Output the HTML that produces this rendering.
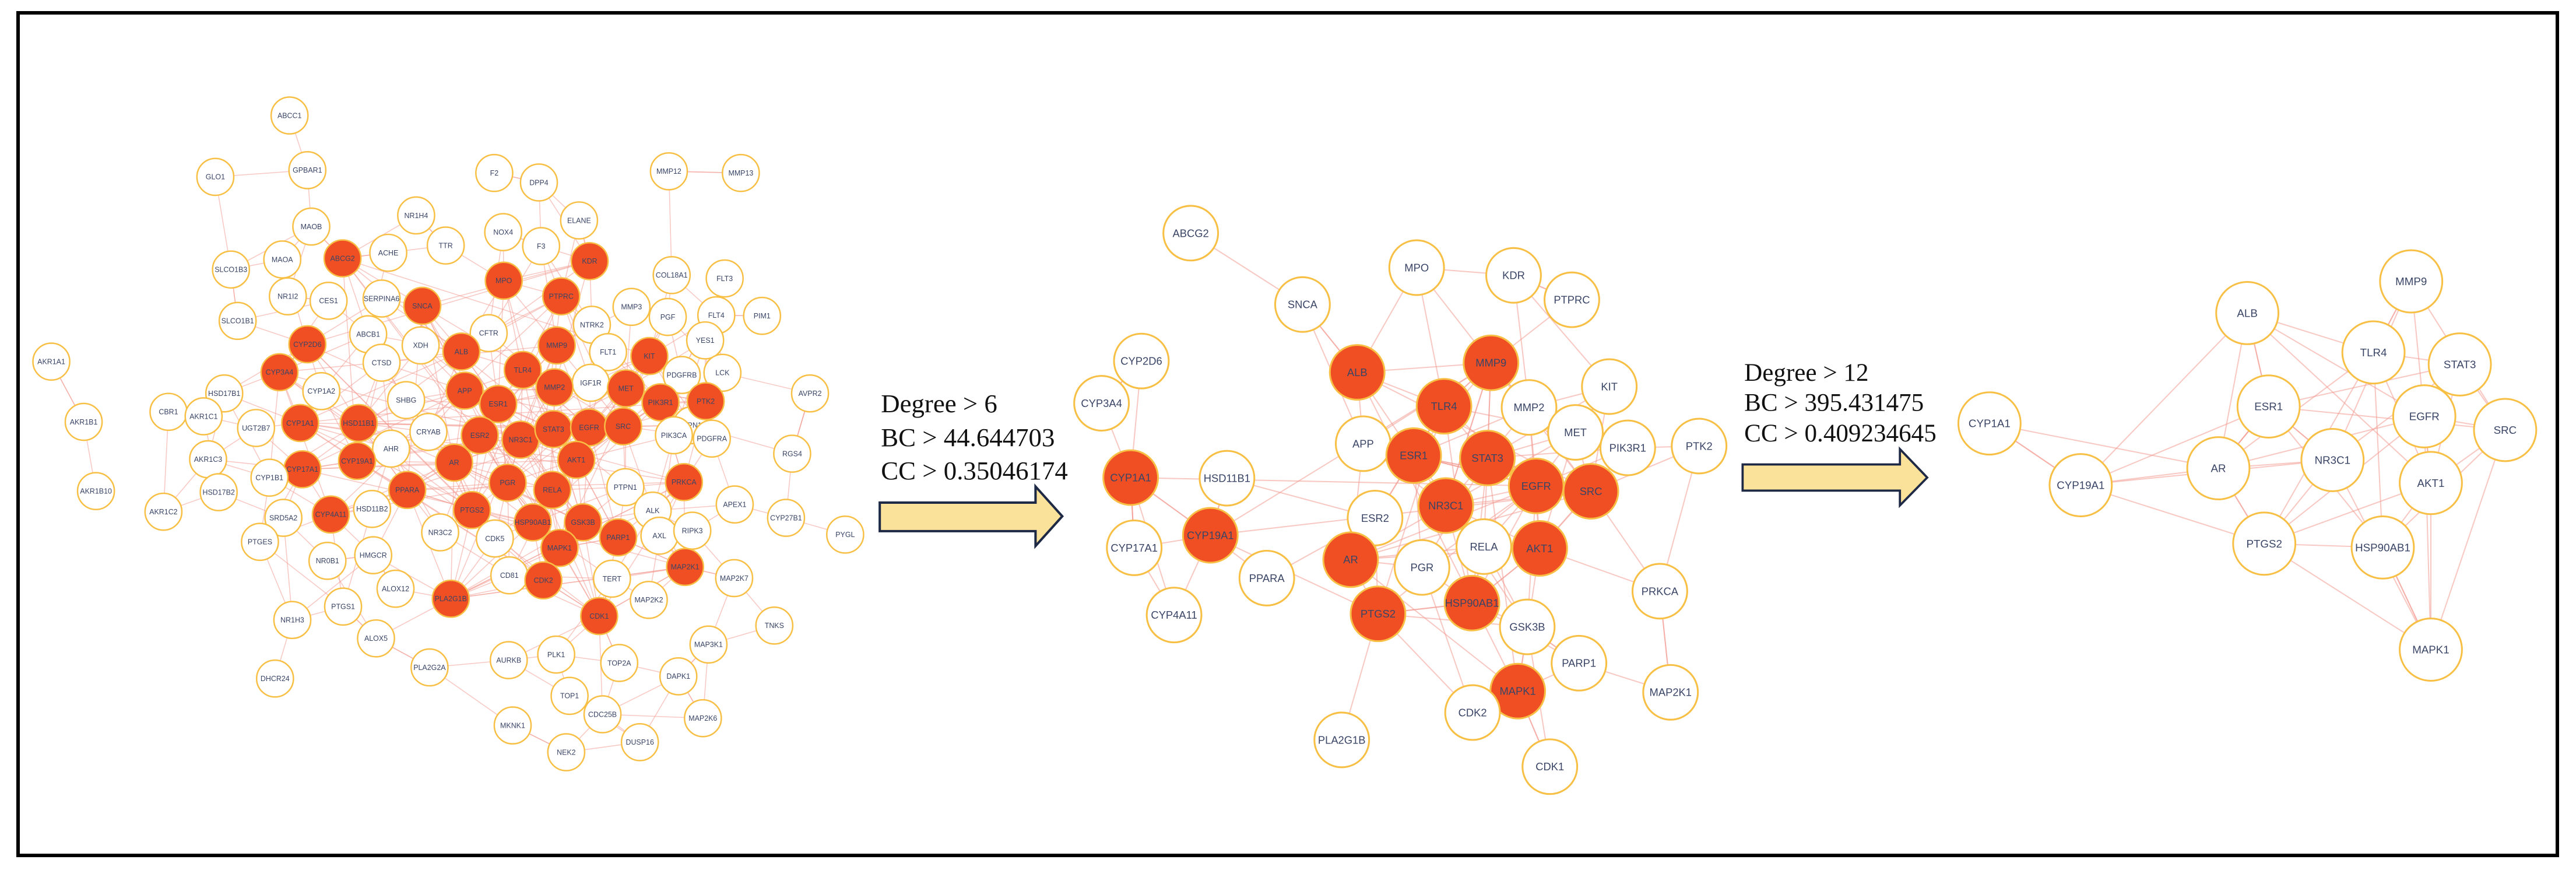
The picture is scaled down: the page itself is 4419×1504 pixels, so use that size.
<!DOCTYPE html>
<html><head><meta charset="utf-8"><style>
html,body{margin:0;padding:0;background:#fff;}
svg{display:block;}
.n1 circle{stroke:#f8bf45;stroke-width:2.6;}
.n2 circle{stroke:#f8bf45;stroke-width:3;}
.n3 circle{stroke:#f8bf45;stroke-width:3.2;}
circle{fill:#fff;}
circle.o{fill:#f04f24;}
text.l{font-family:"Liberation Sans",sans-serif;fill:#3a4566;text-anchor:middle;}
.n1 text.l{font-size:13px;}
.n2 text.l{font-size:18px;}
.n3 text.l{font-size:20px;}
.cap{font-family:"Liberation Serif",serif;fill:#111;}
</style></head><body>
<svg id="s" width="4419" height="1504" viewBox="0 0 4419 1504" xmlns="http://www.w3.org/2000/svg">
<rect x="0" y="0" width="4419" height="1504" fill="#fff"/>
<rect x="31" y="22" width="4356" height="1445" fill="none" stroke="#000" stroke-width="6"/>

<g id="p1" class="n1" transform="scale(0.957)">
<g class="e"></g>
<g class="nodes" data-r="33">
<circle cx="519" cy="207" r="33"/><text class="l" x="519" y="207" dy="0.35em">ABCC1</text>
<circle cx="551" cy="305" r="33"/><text class="l" x="551" y="305" dy="0.35em">GPBAR1</text>
<circle cx="386" cy="317" r="33"/><text class="l" x="386" y="317" dy="0.35em">GLO1</text>
<circle cx="886" cy="310" r="33"/><text class="l" x="886" y="310" dy="0.35em">F2</text>
<circle cx="966" cy="327" r="33"/><text class="l" x="966" y="327" dy="0.35em">DPP4</text>
<circle cx="1199" cy="307" r="33"/><text class="l" x="1199" y="307" dy="0.35em">MMP12</text>
<circle cx="1328" cy="310" r="33"/><text class="l" x="1328" y="310" dy="0.35em">MMP13</text>
<circle cx="746" cy="386" r="33"/><text class="l" x="746" y="386" dy="0.35em">NR1H4</text>
<circle cx="558" cy="406" r="33"/><text class="l" x="558" y="406" dy="0.35em">MAOB</text>
<circle cx="1038" cy="395" r="33"/><text class="l" x="1038" y="395" dy="0.35em">ELANE</text>
<circle cx="902" cy="416" r="33"/><text class="l" x="902" y="416" dy="0.35em">NOX4</text>
<circle cx="799" cy="440" r="33"/><text class="l" x="799" y="440" dy="0.35em">TTR</text>
<circle cx="970" cy="441" r="33"/><text class="l" x="970" y="441" dy="0.35em">F3</text>
<circle cx="506" cy="465" r="33"/><text class="l" x="506" y="465" dy="0.35em">MAOA</text>
<circle class="o" cx="614" cy="463" r="33"/><text class="l" x="614" y="463" dy="0.35em">ABCG2</text>
<circle cx="696" cy="453" r="33"/><text class="l" x="696" y="453" dy="0.35em">ACHE</text>
<circle cx="414" cy="483" r="33"/><text class="l" x="414" y="483" dy="0.35em">SLCO1B3</text>
<circle class="o" cx="1057" cy="468" r="33"/><text class="l" x="1057" y="468" dy="0.35em">KDR</text>
<circle cx="1204" cy="493" r="33"/><text class="l" x="1204" y="493" dy="0.35em">COL18A1</text>
<circle cx="1299" cy="499" r="33"/><text class="l" x="1299" y="499" dy="0.35em">FLT3</text>
<circle cx="516" cy="531" r="33"/><text class="l" x="516" y="531" dy="0.35em">NR1I2</text>
<circle cx="589" cy="539" r="33"/><text class="l" x="589" y="539" dy="0.35em">CES1</text>
<circle cx="684" cy="535" r="33"/><text class="l" x="684" y="535" dy="0.35em">SERPINA6</text>
<circle class="o" cx="757" cy="548" r="33"/><text class="l" x="757" y="548" dy="0.35em">SNCA</text>
<circle class="o" cx="903" cy="503" r="33"/><text class="l" x="903" y="503" dy="0.35em">MPO</text>
<circle class="o" cx="1006" cy="531" r="33"/><text class="l" x="1006" y="531" dy="0.35em">PTPRC</text>
<circle cx="1132" cy="550" r="33"/><text class="l" x="1132" y="550" dy="0.35em">MMP3</text>
<circle cx="1197" cy="568" r="33"/><text class="l" x="1197" y="568" dy="0.35em">PGF</text>
<circle cx="1284" cy="565" r="33"/><text class="l" x="1284" y="565" dy="0.35em">FLT4</text>
<circle cx="1366" cy="566" r="33"/><text class="l" x="1366" y="566" dy="0.35em">PIM1</text>
<circle cx="1061" cy="582" r="33"/><text class="l" x="1061" y="582" dy="0.35em">NTRK2</text>
<circle cx="426" cy="575" r="33"/><text class="l" x="426" y="575" dy="0.35em">SLCO1B1</text>
<circle class="o" cx="551" cy="617" r="33"/><text class="l" x="551" y="617" dy="0.35em">CYP2D6</text>
<circle cx="660" cy="599" r="33"/><text class="l" x="660" y="599" dy="0.35em">ABCB1</text>
<circle cx="754" cy="619" r="33"/><text class="l" x="754" y="619" dy="0.35em">XDH</text>
<circle cx="876" cy="597" r="33"/><text class="l" x="876" y="597" dy="0.35em">CFTR</text>
<circle class="o" cx="827" cy="630" r="33"/><text class="l" x="827" y="630" dy="0.35em">ALB</text>
<circle class="o" cx="998" cy="619" r="33"/><text class="l" x="998" y="619" dy="0.35em">MMP9</text>
<circle cx="1090" cy="631" r="33"/><text class="l" x="1090" y="631" dy="0.35em">FLT1</text>
<circle class="o" cx="1164" cy="638" r="33"/><text class="l" x="1164" y="638" dy="0.35em">KIT</text>
<circle cx="1264" cy="610" r="33"/><text class="l" x="1264" y="610" dy="0.35em">YES1</text>
<circle cx="92" cy="648" r="33"/><text class="l" x="92" y="648" dy="0.35em">AKR1A1</text>
<circle cx="684" cy="650" r="33"/><text class="l" x="684" y="650" dy="0.35em">CTSD</text>
<circle class="o" cx="501" cy="667" r="33"/><text class="l" x="501" y="667" dy="0.35em">CYP3A4</text>
<circle class="o" cx="937" cy="663" r="33"/><text class="l" x="937" y="663" dy="0.35em">TLR4</text>
<circle cx="1295" cy="668" r="33"/><text class="l" x="1295" y="668" dy="0.35em">LCK</text>
<circle cx="1222" cy="672" r="33"/><text class="l" x="1222" y="672" dy="0.35em">PDGFRB</text>
<circle cx="1059" cy="686" r="33"/><text class="l" x="1059" y="686" dy="0.35em">IGF1R</text>
<circle class="o" cx="994" cy="694" r="33"/><text class="l" x="994" y="694" dy="0.35em">MMP2</text>
<circle class="o" cx="1122" cy="696" r="33"/><text class="l" x="1122" y="696" dy="0.35em">MET</text>
<circle cx="576" cy="701" r="33"/><text class="l" x="576" y="701" dy="0.35em">CYP1A2</text>
<circle cx="728" cy="717" r="33"/><text class="l" x="728" y="717" dy="0.35em">SHBG</text>
<circle class="o" cx="833" cy="700" r="33"/><text class="l" x="833" y="700" dy="0.35em">APP</text>
<circle cx="402" cy="705" r="33"/><text class="l" x="402" y="705" dy="0.35em">HSD17B1</text>
<circle class="o" cx="893" cy="724" r="33"/><text class="l" x="893" y="724" dy="0.35em">ESR1</text>
<circle cx="1240" cy="762" r="33"/><text class="l" x="1240" y="762" dy="0.35em">PTPN11</text>
<circle class="o" cx="1184" cy="721" r="33"/><text class="l" x="1184" y="721" dy="0.35em">PIK3R1</text>
<circle class="o" cx="1265" cy="719" r="33"/><text class="l" x="1265" y="719" dy="0.35em">PTK2</text>
<circle cx="1452" cy="705" r="33"/><text class="l" x="1452" y="705" dy="0.35em">AVPR2</text>
<circle cx="302" cy="738" r="33"/><text class="l" x="302" y="738" dy="0.35em">CBR1</text>
<circle cx="365" cy="746" r="33"/><text class="l" x="365" y="746" dy="0.35em">AKR1C1</text>
<circle cx="150" cy="756" r="33"/><text class="l" x="150" y="756" dy="0.35em">AKR1B1</text>
<circle cx="459" cy="767" r="33"/><text class="l" x="459" y="767" dy="0.35em">UGT2B7</text>
<circle class="o" cx="538" cy="758" r="33"/><text class="l" x="538" y="758" dy="0.35em">CYP1A1</text>
<circle class="o" cx="643" cy="758" r="33"/><text class="l" x="643" y="758" dy="0.35em">HSD11B1</text>
<circle cx="768" cy="774" r="33"/><text class="l" x="768" y="774" dy="0.35em">CRYAB</text>
<circle class="o" cx="860" cy="780" r="33"/><text class="l" x="860" y="780" dy="0.35em">ESR2</text>
<circle class="o" cx="933" cy="788" r="33"/><text class="l" x="933" y="788" dy="0.35em">NR3C1</text>
<circle class="o" cx="992" cy="769" r="33"/><text class="l" x="992" y="769" dy="0.35em">STAT3</text>
<circle class="o" cx="1056" cy="766" r="33"/><text class="l" x="1056" y="766" dy="0.35em">EGFR</text>
<circle class="o" cx="1117" cy="764" r="33"/><text class="l" x="1117" y="764" dy="0.35em">SRC</text>
<circle cx="1208" cy="780" r="33"/><text class="l" x="1208" y="780" dy="0.35em">PIK3CA</text>
<circle cx="1276" cy="786" r="33"/><text class="l" x="1276" y="786" dy="0.35em">PDGFRA</text>
<circle cx="1420" cy="813" r="33"/><text class="l" x="1420" y="813" dy="0.35em">RGS4</text>
<circle cx="701" cy="804" r="33"/><text class="l" x="701" y="804" dy="0.35em">AHR</text>
<circle cx="373" cy="823" r="33"/><text class="l" x="373" y="823" dy="0.35em">AKR1C3</text>
<circle class="o" cx="542" cy="841" r="33"/><text class="l" x="542" y="841" dy="0.35em">CYP17A1</text>
<circle class="o" cx="640" cy="826" r="33"/><text class="l" x="640" y="826" dy="0.35em">CYP19A1</text>
<circle class="o" cx="814" cy="829" r="33"/><text class="l" x="814" y="829" dy="0.35em">AR</text>
<circle class="o" cx="1033" cy="824" r="33"/><text class="l" x="1033" y="824" dy="0.35em">AKT1</text>
<circle cx="483" cy="856" r="33"/><text class="l" x="483" y="856" dy="0.35em">CYP1B1</text>
<circle cx="392" cy="882" r="33"/><text class="l" x="392" y="882" dy="0.35em">HSD17B2</text>
<circle cx="172" cy="880" r="33"/><text class="l" x="172" y="880" dy="0.35em">AKR1B10</text>
<circle class="o" cx="730" cy="878" r="33"/><text class="l" x="730" y="878" dy="0.35em">PPARA</text>
<circle class="o" cx="910" cy="865" r="33"/><text class="l" x="910" y="865" dy="0.35em">PGR</text>
<circle class="o" cx="990" cy="878" r="33"/><text class="l" x="990" y="878" dy="0.35em">RELA</text>
<circle cx="1121" cy="873" r="33"/><text class="l" x="1121" y="873" dy="0.35em">PTPN1</text>
<circle class="o" cx="1226" cy="864" r="33"/><text class="l" x="1226" y="864" dy="0.35em">PRKCA</text>
<circle cx="1317" cy="904" r="33"/><text class="l" x="1317" y="904" dy="0.35em">APEX1</text>
<circle cx="293" cy="917" r="33"/><text class="l" x="293" y="917" dy="0.35em">AKR1C2</text>
<circle cx="508" cy="928" r="33"/><text class="l" x="508" y="928" dy="0.35em">SRD5A2</text>
<circle class="o" cx="593" cy="922" r="33"/><text class="l" x="593" y="922" dy="0.35em">CYP4A11</text>
<circle cx="667" cy="912" r="33"/><text class="l" x="667" y="912" dy="0.35em">HSD11B2</text>
<circle class="o" cx="846" cy="914" r="33"/><text class="l" x="846" y="914" dy="0.35em">PTGS2</text>
<circle cx="1170" cy="915" r="33"/><text class="l" x="1170" y="915" dy="0.35em">ALK</text>
<circle cx="1409" cy="928" r="33"/><text class="l" x="1409" y="928" dy="0.35em">CYP27B1</text>
<circle cx="1515" cy="958" r="33"/><text class="l" x="1515" y="958" dy="0.35em">PYGL</text>
<circle class="o" cx="955" cy="936" r="33"/><text class="l" x="955" y="936" dy="0.35em">HSP90AB1</text>
<circle class="o" cx="1045" cy="936" r="33"/><text class="l" x="1045" y="936" dy="0.35em">GSK3B</text>
<circle cx="1182" cy="960" r="33"/><text class="l" x="1182" y="960" dy="0.35em">AXL</text>
<circle class="o" cx="1108" cy="963" r="33"/><text class="l" x="1108" y="963" dy="0.35em">PARP1</text>
<circle cx="1241" cy="951" r="33"/><text class="l" x="1241" y="951" dy="0.35em">RIPK3</text>
<circle cx="466" cy="971" r="33"/><text class="l" x="466" y="971" dy="0.35em">PTGES</text>
<circle cx="789" cy="954" r="33"/><text class="l" x="789" y="954" dy="0.35em">NR3C2</text>
<circle cx="887" cy="965" r="33"/><text class="l" x="887" y="965" dy="0.35em">CDK5</text>
<circle class="o" cx="1003" cy="982" r="33"/><text class="l" x="1003" y="982" dy="0.35em">MAPK1</text>
<circle cx="587" cy="1005" r="33"/><text class="l" x="587" y="1005" dy="0.35em">NR0B1</text>
<circle cx="669" cy="995" r="33"/><text class="l" x="669" y="995" dy="0.35em">HMGCR</text>
<circle class="o" cx="1228" cy="1016" r="33"/><text class="l" x="1228" y="1016" dy="0.35em">MAP2K1</text>
<circle cx="1316" cy="1036" r="33"/><text class="l" x="1316" y="1036" dy="0.35em">MAP2K7</text>
<circle cx="913" cy="1031" r="33"/><text class="l" x="913" y="1031" dy="0.35em">CD81</text>
<circle class="o" cx="974" cy="1040" r="33"/><text class="l" x="974" y="1040" dy="0.35em">CDK2</text>
<circle cx="1097" cy="1037" r="33"/><text class="l" x="1097" y="1037" dy="0.35em">TERT</text>
<circle cx="709" cy="1055" r="33"/><text class="l" x="709" y="1055" dy="0.35em">ALOX12</text>
<circle class="o" cx="808" cy="1073" r="33"/><text class="l" x="808" y="1073" dy="0.35em">PLA2G1B</text>
<circle cx="615" cy="1087" r="33"/><text class="l" x="615" y="1087" dy="0.35em">PTGS1</text>
<circle cx="524" cy="1111" r="33"/><text class="l" x="524" y="1111" dy="0.35em">NR1H3</text>
<circle cx="1163" cy="1075" r="33"/><text class="l" x="1163" y="1075" dy="0.35em">MAP2K2</text>
<circle class="o" cx="1074" cy="1104" r="33"/><text class="l" x="1074" y="1104" dy="0.35em">CDK1</text>
<circle cx="1388" cy="1121" r="33"/><text class="l" x="1388" y="1121" dy="0.35em">TNKS</text>
<circle cx="674" cy="1144" r="33"/><text class="l" x="674" y="1144" dy="0.35em">ALOX5</text>
<circle cx="912" cy="1183" r="33"/><text class="l" x="912" y="1183" dy="0.35em">AURKB</text>
<circle cx="997" cy="1173" r="33"/><text class="l" x="997" y="1173" dy="0.35em">PLK1</text>
<circle cx="1110" cy="1188" r="33"/><text class="l" x="1110" y="1188" dy="0.35em">TOP2A</text>
<circle cx="1270" cy="1155" r="33"/><text class="l" x="1270" y="1155" dy="0.35em">MAP3K1</text>
<circle cx="770" cy="1196" r="33"/><text class="l" x="770" y="1196" dy="0.35em">PLA2G2A</text>
<circle cx="1216" cy="1212" r="33"/><text class="l" x="1216" y="1212" dy="0.35em">DAPK1</text>
<circle cx="493" cy="1216" r="33"/><text class="l" x="493" y="1216" dy="0.35em">DHCR24</text>
<circle cx="1021" cy="1247" r="33"/><text class="l" x="1021" y="1247" dy="0.35em">TOP1</text>
<circle cx="1080" cy="1280" r="33"/><text class="l" x="1080" y="1280" dy="0.35em">CDC25B</text>
<circle cx="1260" cy="1287" r="33"/><text class="l" x="1260" y="1287" dy="0.35em">MAP2K6</text>
<circle cx="919" cy="1300" r="33"/><text class="l" x="919" y="1300" dy="0.35em">MKNK1</text>
<circle cx="1147" cy="1330" r="33"/><text class="l" x="1147" y="1330" dy="0.35em">DUSP16</text>
<circle cx="1015" cy="1348" r="33"/><text class="l" x="1015" y="1348" dy="0.35em">NEK2</text>
</g></g>

<g id="p2" class="n2" transform="translate(1450,0) scale(1.02)">
<text class="cap" x="60" y="693" font-size="44">Degree &gt; 6</text>
<text class="cap" x="60" y="750" font-size="44">BC &gt; 44.644703</text>
<text class="cap" x="60" y="806" font-size="44">CC &gt; 0.35046174</text>
<path d="M58,845 L320,845 L320,818 L365,868 L320,918 L320,893 L58,893 Z" fill="#fbe29a" stroke="#1e2946" stroke-width="4" stroke-linejoin="miter"/>
<g class="e"></g>
<g class="nodes" data-r="46">
<circle cx="581" cy="392" r="46"/><text class="l" x="581" y="392" dy="0.35em">ABCG2</text>
<circle cx="961" cy="450" r="46"/><text class="l" x="961" y="450" dy="0.35em">MPO</text>
<circle cx="1124" cy="463" r="46"/><text class="l" x="1124" y="463" dy="0.35em">KDR</text>
<circle cx="1222" cy="504" r="46"/><text class="l" x="1222" y="504" dy="0.35em">PTPRC</text>
<circle cx="769" cy="512" r="46"/><text class="l" x="769" y="512" dy="0.35em">SNCA</text>
<circle cx="498" cy="607" r="46"/><text class="l" x="498" y="607" dy="0.35em">CYP2D6</text>
<circle class="o" cx="861" cy="626" r="46"/><text class="l" x="861" y="626" dy="0.35em">ALB</text>
<circle class="o" cx="1086" cy="610" r="46"/><text class="l" x="1086" y="610" dy="0.35em">MMP9</text>
<circle cx="1285" cy="650" r="46"/><text class="l" x="1285" y="650" dy="0.35em">KIT</text>
<circle cx="431" cy="678" r="46"/><text class="l" x="431" y="678" dy="0.35em">CYP3A4</text>
<circle class="o" cx="1007" cy="683" r="46"/><text class="l" x="1007" y="683" dy="0.35em">TLR4</text>
<circle cx="1150" cy="685" r="46"/><text class="l" x="1150" y="685" dy="0.35em">MMP2</text>
<circle cx="1228" cy="727" r="46"/><text class="l" x="1228" y="727" dy="0.35em">MET</text>
<circle cx="1316" cy="753" r="46"/><text class="l" x="1316" y="753" dy="0.35em">PIK3R1</text>
<circle cx="1436" cy="750" r="46"/><text class="l" x="1436" y="750" dy="0.35em">PTK2</text>
<circle cx="871" cy="746" r="46"/><text class="l" x="871" y="746" dy="0.35em">APP</text>
<circle class="o" cx="956" cy="766" r="46"/><text class="l" x="956" y="766" dy="0.35em">ESR1</text>
<circle class="o" cx="1080" cy="770" r="46"/><text class="l" x="1080" y="770" dy="0.35em">STAT3</text>
<circle class="o" cx="480" cy="803" r="46"/><text class="l" x="480" y="803" dy="0.35em">CYP1A1</text>
<circle cx="642" cy="804" r="46"/><text class="l" x="642" y="804" dy="0.35em">HSD11B1</text>
<circle class="o" cx="1162" cy="817" r="46"/><text class="l" x="1162" y="817" dy="0.35em">EGFR</text>
<circle class="o" cx="1254" cy="826" r="46"/><text class="l" x="1254" y="826" dy="0.35em">SRC</text>
<circle class="o" cx="1010" cy="850" r="46"/><text class="l" x="1010" y="850" dy="0.35em">NR3C1</text>
<circle cx="891" cy="871" r="46"/><text class="l" x="891" y="871" dy="0.35em">ESR2</text>
<circle class="o" cx="614" cy="900" r="46"/><text class="l" x="614" y="900" dy="0.35em">CYP19A1</text>
<circle cx="486" cy="921" r="46"/><text class="l" x="486" y="921" dy="0.35em">CYP17A1</text>
<circle cx="1074" cy="919" r="46"/><text class="l" x="1074" y="919" dy="0.35em">RELA</text>
<circle class="o" cx="1168" cy="922" r="46"/><text class="l" x="1168" y="922" dy="0.35em">AKT1</text>
<circle class="o" cx="850" cy="941" r="46"/><text class="l" x="850" y="941" dy="0.35em">AR</text>
<circle cx="970" cy="954" r="46"/><text class="l" x="970" y="954" dy="0.35em">PGR</text>
<circle cx="709" cy="972" r="46"/><text class="l" x="709" y="972" dy="0.35em">PPARA</text>
<circle cx="1370" cy="994" r="46"/><text class="l" x="1370" y="994" dy="0.35em">PRKCA</text>
<circle class="o" cx="1054" cy="1014" r="46"/><text class="l" x="1054" y="1014" dy="0.35em">HSP90AB1</text>
<circle class="o" cx="896" cy="1032" r="46"/><text class="l" x="896" y="1032" dy="0.35em">PTGS2</text>
<circle cx="553" cy="1034" r="46"/><text class="l" x="553" y="1034" dy="0.35em">CYP4A11</text>
<circle cx="1147" cy="1054" r="46"/><text class="l" x="1147" y="1054" dy="0.35em">GSK3B</text>
<circle cx="1234" cy="1115" r="46"/><text class="l" x="1234" y="1115" dy="0.35em">PARP1</text>
<circle class="o" cx="1131" cy="1162" r="46"/><text class="l" x="1131" y="1162" dy="0.35em">MAPK1</text>
<circle cx="1388" cy="1164" r="46"/><text class="l" x="1388" y="1164" dy="0.35em">MAP2K1</text>
<circle cx="1055" cy="1198" r="46"/><text class="l" x="1055" y="1198" dy="0.35em">CDK2</text>
<circle cx="835" cy="1244" r="46"/><text class="l" x="835" y="1244" dy="0.35em">PLA2G1B</text>
<circle cx="1185" cy="1289" r="46"/><text class="l" x="1185" y="1289" dy="0.35em">CDK1</text>
</g></g>

<g id="p3" class="n3" transform="translate(2950,0) scale(0.937)">
<text class="cap" x="45" y="697" font-size="46">Degree &gt; 12</text>
<text class="cap" x="45" y="752" font-size="46">BC &gt; 395.431475</text>
<text class="cap" x="45" y="808" font-size="46">CC &gt; 0.409234645</text>
<path d="M42,850 L330,850 L330,822 L380,874 L330,925 L330,898 L42,898 Z" fill="#fbe29a" stroke="#1e2946" stroke-width="4"/>
<g class="e"></g>
<g class="nodes" data-r="57">
<circle cx="1266" cy="515" r="57"/><text class="l" x="1266" y="515" dy="0.35em">MMP9</text>
<circle cx="966" cy="573" r="57"/><text class="l" x="966" y="573" dy="0.35em">ALB</text>
<circle cx="1197" cy="645" r="57"/><text class="l" x="1197" y="645" dy="0.35em">TLR4</text>
<circle cx="1355" cy="667" r="57"/><text class="l" x="1355" y="667" dy="0.35em">STAT3</text>
<circle cx="1005" cy="744" r="57"/><text class="l" x="1005" y="744" dy="0.35em">ESR1</text>
<circle cx="494" cy="775" r="57"/><text class="l" x="494" y="775" dy="0.35em">CYP1A1</text>
<circle cx="1290" cy="762" r="57"/><text class="l" x="1290" y="762" dy="0.35em">EGFR</text>
<circle cx="1438" cy="787" r="57"/><text class="l" x="1438" y="787" dy="0.35em">SRC</text>
<circle cx="1122" cy="842" r="57"/><text class="l" x="1122" y="842" dy="0.35em">NR3C1</text>
<circle cx="913" cy="857" r="57"/><text class="l" x="913" y="857" dy="0.35em">AR</text>
<circle cx="1302" cy="884" r="57"/><text class="l" x="1302" y="884" dy="0.35em">AKT1</text>
<circle cx="661" cy="888" r="57"/><text class="l" x="661" y="888" dy="0.35em">CYP19A1</text>
<circle cx="997" cy="995" r="57"/><text class="l" x="997" y="995" dy="0.35em">PTGS2</text>
<circle cx="1214" cy="1002" r="57"/><text class="l" x="1214" y="1002" dy="0.35em">HSP90AB1</text>
<circle cx="1302" cy="1189" r="57"/><text class="l" x="1302" y="1189" dy="0.35em">MAPK1</text>
</g></g>
</svg>
<script>
(function(){
var seed=12345;function rnd(){seed=(seed*1103515245+12345)%2147483648;return seed/2147483648;}
var NS="http://www.w3.org/2000/svg";
function build(id,dist,prob,orangeLinks,sw,extra){
 var g=document.getElementById(id);var eg=g.querySelector('.e');
 var cs=g.querySelectorAll('.nodes circle');var P=[];
 for(var i=0;i<cs.length;i++){P.push({x:+cs[i].getAttribute('cx'),y:+cs[i].getAttribute('cy'),o:cs[i].classList.contains('o'),t:cs[i].nextSibling.textContent||''});}
 function line(a,b){var l=document.createElementNS(NS,'line');l.setAttribute('x1',a.x);l.setAttribute('y1',a.y);l.setAttribute('x2',b.x);l.setAttribute('y2',b.y);l.setAttribute('stroke','#f29a92');l.setAttribute('stroke-opacity','0.55');l.setAttribute('stroke-width',sw);eg.appendChild(l);}
 for(var i=0;i<P.length;i++){var best=-1,bd=1e9;
  for(var j=0;j<P.length;j++){if(i==j)continue;var d=Math.hypot(P[i].x-P[j].x,P[i].y-P[j].y);if(d<bd){bd=d;best=j;}
   if(j>i&&d<dist&&rnd()<prob*(P[i].o||P[j].o?1.6:1))line(P[i],P[j]);}
  line(P[i],P[best]);
  if(P[i].o){for(var k=0;k<orangeLinks;k++){var j=Math.floor(rnd()*P.length);if(P[j].o&&j!=i)line(P[i],P[j]);}}
 }
 if(extra)extra(P,line);
}
build('p1',190,0.28,8,1.6);
build('p2',260,0.35,6,2);
build('p3',480,0.6,0,2.2,function(P,line){});
})();
</script>
</body></html>
